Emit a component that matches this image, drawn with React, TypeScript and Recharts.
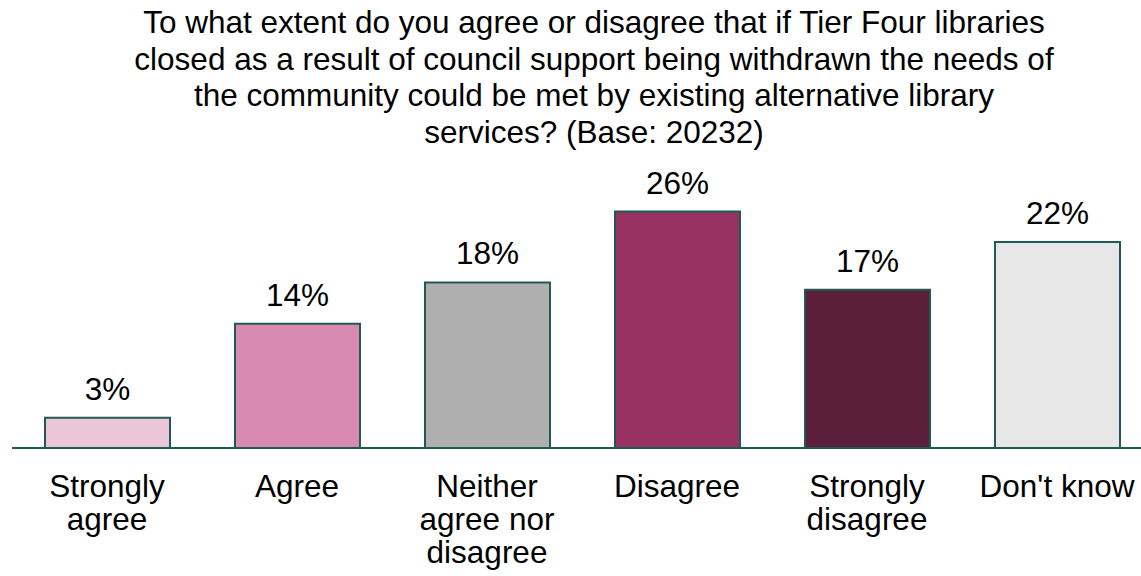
// Tier Four libraries survey — single bar chart, Recharts.

import { Bar, BarChart, Cell, LabelList, XAxis, YAxis } from "recharts";

const titleLines = [
  "To what extent do you agree or disagree that if Tier Four libraries",
  "closed as a result of council support being withdrawn the needs of",
  "the community could be met by existing alternative library",
  "services? (Base: 20232)",
];

const categories = [
  "Strongly agree",
  "Agree",
  "Neither agree nor disagree",
  "Disagree",
  "Strongly disagree",
  "Don't know",
];
const values = [3.3, 13.5, 18.0, 25.7, 17.2, 22.4];
const valueLabels = ["3%", "14%", "18%", "26%", "17%", "22%"];
const colors = ["#ebc6d8", "#d98ab0", "#afafaf", "#983262", "#5b1f3c", "#e7e7e7"];

const FONT = "'Liberation Sans', Arial, Helvetica, sans-serif";
const FONT_SIZE = 31.5;
const EDGE = "#1f5a55";

const data = categories.map((name, i) => ({ name, v: values[i], label: valueLabels[i] }));

let ctx: CanvasRenderingContext2D | null = null;
function measure(s: string) {
  if (!ctx) {
    ctx = document.createElement("canvas").getContext("2d");
  }
  if (!ctx) return s.length * FONT_SIZE * 0.5;
  ctx.font = `${FONT_SIZE}px ${FONT}`;
  return ctx.measureText(s).width;
}

// greedy word wrap to a max pixel width
function wrap(s: string, maxW: number) {
  const words = s.split(" ");
  const lines: string[] = [];
  let cur = "";
  for (const w of words) {
    const next = cur ? cur + " " + w : w;
    if (cur && measure(next) > maxW) {
      lines.push(cur);
      cur = w;
    } else {
      cur = next;
    }
  }
  if (cur) lines.push(cur);
  return lines;
}

function CatTick(props: any) {
  const { x, payload } = props;
  const lines = wrap(String(payload.value), 170);
  return (
    <text
      x={x}
      y={497}
      textAnchor="middle"
      fill="#000"
      style={{ fontSize: FONT_SIZE, fontFamily: FONT }}
    >
      {lines.map((l, i) => (
        <tspan key={i} x={x} dy={i === 0 ? 0 : 33}>
          {l}
        </tspan>
      ))}
    </text>
  );
}

export default function App() {
  return (
    <div
      style={{
        position: "fixed",
        left: 0,
        top: 0,
        width: 1141,
        height: 576,
        overflow: "hidden",
        background: "#fff",
      }}
    >
      <div
        style={{
          position: "absolute",
          left: 0,
          top: 4,
          width: 1188,
          textAlign: "center",
          fontFamily: FONT,
          fontSize: FONT_SIZE,
          lineHeight: "36.7px",
          color: "#000",
          whiteSpace: "nowrap",
        }}
      >
        {titleLines.map((t) => (
          <div key={t}>{t}</div>
        ))}
      </div>
      <div style={{ position: "absolute", left: 0, top: 0 }}>
        <BarChart
          width={1160}
          height={576}
          data={data}
          margin={{ top: 172, right: 8, bottom: 8, left: 12 }}
        >
          <YAxis hide domain={[0, 30]} />
          <XAxis
            dataKey="name"
            height={120}
            interval={0}
            tickLine={false}
            axisLine={{ stroke: EDGE, strokeWidth: 2 }}
            tick={<CatTick />}
          />
          <Bar dataKey="v" barSize={125} stroke={EDGE} strokeWidth={2} isAnimationActive={false}>
            {data.map((d, i) => (
              <Cell key={d.name} fill={colors[i]} stroke={EDGE} strokeWidth={2} />
            ))}
            <LabelList
              dataKey="label"
              position="top"
              offset={18}
              fill="#000"
              style={{ fontSize: FONT_SIZE, fontFamily: FONT }}
            />
          </Bar>
        </BarChart>
      </div>
    </div>
  );
}
